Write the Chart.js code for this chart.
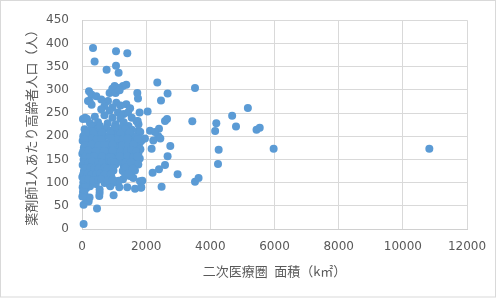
<!DOCTYPE html>
<html><head><meta charset="utf-8">
<script src="https://cdn.jsdelivr.net/npm/chart.js@4"></script>
<style>html,body{margin:0;padding:0;background:#fff;}#wrap{width:502px;height:299px;position:relative}</style>
</head><body><div id="wrap"><canvas id="c" width="502" height="299"></canvas></div>
<script>
// 二次医療圏 面積（k㎡）
const areaKm2 = [
  343,1060,1412,393,1060,767,1141,2347,1381,1278,1153,1016,944,860,1047,1172,3522,2668,2462,218,
  290,237,446,601,1724,1745,5170,2045,4680,3438,4186,4800,4150,2587,2650,2400,1795,2752,4260,5440,
  5540,5973,10826,50,468,206,50,539,549,985,1163,1412,1652,1848,1880,2201,2400,2587,2668,2980,
  2481,3522,3634,4239,623,156,2378,2222,2170,1858,1963,1760,1760,1808,1839,1755,2120,2275,2441,1817,1735,
  187,810,1069,1381,
  300,700,950,1200,1500,
  600,860,1122,1300,1434,
  30,100,400,700,950,1200,1550,1700,
  250,350,500,800,1050,1300,1450,
  80,200,450,750,900,1100,1250,1400,1550,
  40,150,300,420,550,700,1000,1150,1300,1450,1600,1780,
  20,120,250,380,500,650,780,920,1060,1200,1350,1500,1650,1800,
  60,180,320,440,580,720,860,1000,1140,1300,1420,1560,1700,1820,
  10,110,240,370,500,640,770,900,1040,1350,1480,1620,1760,
  50,170,300,430,560,690,830,960,1100,1280,1550,1693,1800,
  20,130,260,390,520,650,780,910,1040,1300,1450,1600,
  60,190,320,450,580,720,850,980,1270,1400,1530,1650,
  10,120,250,380,510,640,780,920,1069,1278,1484,1600,
  40,160,300,430,704,860,1000,1150,
  20,130,250,549,882,
  30,80,134,237,10,60,100,
  90,330,560,150,400,620,850,1080,280,520,740,980,1180,200,420,640,870,1120,350,580,1380,1500,1650,70,230,470,1020,1350,
  120,360,620,880,1200,1480,
  80,320,450,600,900,1130,1260,1420,1720,
  100,300,520,700,950,1250,1450,1600,
  40,200,430,700,950,1200,1400,1550,1680,
  110,240,380,620,900,1180,1420,1600,1720,
  80,200,330,500,620,900,1000,1350,1520,
  100,260,380,520,700,800,960,1360,1580,
  40,180,300,440,560,700,900,1350,1450,
  60,200,350,500,600,800,950
];
// 薬剤師1人あたり高齢者人口（人）
const eldersPerPharmacist = [
  390,383,379,361,352,343,337,316,311,308,304,308,302,293,293,299,304,292,277,297,
  290,276,286,279,293,281,261,253,244,232,228,221,211,233,237,216,251,179,171,214,
  218,173,173,11,44,59,52,71,78,73,90,90,87,90,104,121,129,138,157,118,
  91,102,110,140,210,237,200,191,173,191,195,212,226,103,89,139,212,209,195,209,233,
  276,276,272,269,
  268,265,262,266,260,
  258,255,251,248,251,
  237,240,242,245,240,238,240,232,
  228,222,230,228,226,230,222,
  215,212,214,216,212,214,218,210,214,
  200,203,200,198,202,200,203,200,198,202,200,196,
  190,188,186,190,186,189,185,190,187,183,190,186,189,186,
  176,174,177,172,175,177,172,176,174,171,177,174,178,172,
  162,163,160,164,161,163,160,165,161,160,163,159,164,
  150,148,151,147,150,148,152,148,151,150,148,149,152,
  138,136,139,135,138,136,140,137,139,136,140,137,
  125,122,126,123,127,124,121,126,125,122,119,126,
  112,110,113,109,112,110,114,111,103,107,114,110,
  100,98,102,97,99,96,100,104,
  90,88,92,85,92,
  80,75,64,68,70,85,95,
  205,210,222,180,182,170,182,195,165,155,143,160,145,130,130,118,135,165,145,190,150,130,140,170,195,205,220,215,
  207,206,208,207,205,208,
  194,195,193,194,196,194,193,195,194,
  181,182,180,181,182,180,181,182,
  168,169,167,168,169,167,168,169,167,
  156,155,157,156,155,157,156,155,156,
  144,143,145,144,143,145,144,143,144,
  131,132,130,131,132,130,131,132,130,
  118,119,117,118,119,117,118,117,119,
  106,107,105,106,107,105,106
];
const xAxisTitle = '二次医療圏\u2002面積（k㎡）';
const yAxisTitle = '薬剤師1人あたり高齢者人口（人）';
const xRange = [0, 12000, 2000];
const yRange = [0, 450, 50];

const points = areaKm2.map((x, i) => ({x: x, y: eldersPerPharmacist[i]}));

const frame = {
  id: 'frame',
  beforeDraw(chart) {
    const c = chart.ctx;
    c.save();
    c.fillStyle = '#fff';
    c.fillRect(0, 0, chart.width, chart.height);
    c.strokeStyle = '#D9D9D9';
    c.lineWidth = 1;
    c.strokeRect(0.5, 0.5, 495, 296.5);
    c.restore();
  }
};

const tickFont = {family: '"DejaVu Sans", sans-serif', size: 12};
const titleFont = {family: '"Noto Sans CJK JP", sans-serif', size: 13};
const gray = '#595959';

new Chart(document.getElementById('c'), {
  type: 'scatter',
  data: {datasets: [{
    data: points,
    backgroundColor: '#5B9BD5',
    pointBackgroundColor: '#5B9BD5',
    borderWidth: 0,
    pointBorderWidth: 0,
    pointRadius: 4,
    pointHoverRadius: 4,
    clip: false
  }]},
  plugins: [frame],
  options: {
    responsive: false,
    animation: false,
    devicePixelRatio: 1,
    layout: {padding: {left: 0, right: 35, top: 16, bottom: 0}},
    plugins: {legend: {display: false}, tooltip: {enabled: false}},
    scales: {
      x: {
        type: 'linear', min: xRange[0], max: xRange[1],
        ticks: {stepSize: xRange[2], font: tickFont, color: gray, padding: 11, maxRotation: 0,
          callback: v => String(v)},
        grid: {color: '#D9D9D9', drawTicks: false},
        border: {color: '#D0D0D0'},
        title: {display: true, text: xAxisTitle, font: titleFont, color: gray, padding: {top: 0, bottom: 20}},
        afterFit(s) { s.height = 70; }
      },
      y: {
        type: 'linear', min: yRange[0], max: yRange[1],
        ticks: {stepSize: yRange[2], font: tickFont, color: gray, padding: 13,
          callback: v => String(v)},
        grid: {color: '#D9D9D9', drawTicks: false},
        border: {color: '#D0D0D0'},
        title: {display: true, text: yAxisTitle, font: titleFont, color: gray, padding: {top: 23, bottom: 0}},
        afterFit(s) { s.width = 82; }
      }
    }
  }
});
</script></body></html>
